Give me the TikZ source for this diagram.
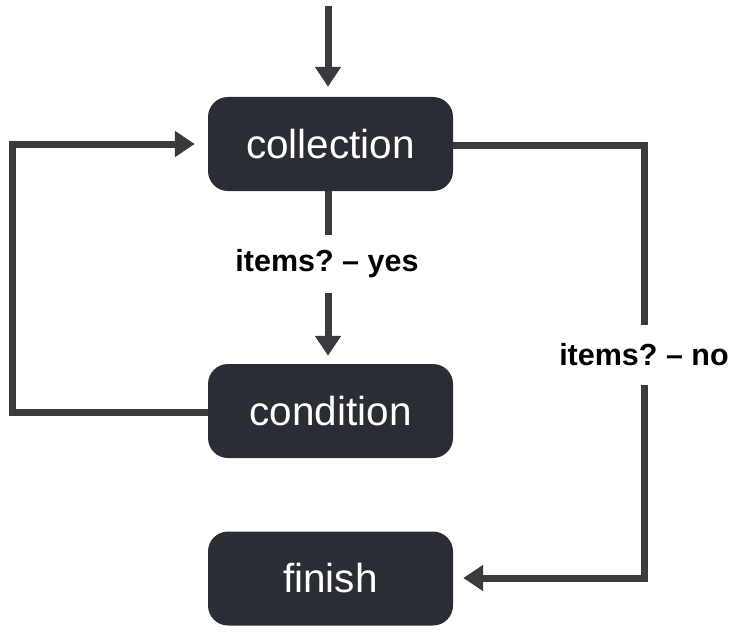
\documentclass[tikz,border=0pt]{standalone}
\usepackage{fontspec}
\setmainfont{Liberation Sans}
\usetikzlibrary{arrows.meta}
\frenchspacing
\definecolor{boxfill}{HTML}{2B2D35}
\definecolor{linec}{HTML}{3A3B3E}
\tikzset{
  flowbox/.style={draw=none, fill=boxfill, rounded corners=20pt, minimum width=245pt, minimum height=94pt, text=white, font=\fontsize{40.5}{48}\selectfont, inner sep=0pt},
  conn/.style={draw=linec, line width=7pt},
  arr/.style={conn, -{Triangle[width=25pt,length=20pt]}},
  lbl/.style={font=\bfseries\fontsize{30.5}{36}\selectfont, text=black, inner sep=0pt}
}
\begin{document}
\begin{tikzpicture}[x=1pt,y=-1pt]
\useasboundingbox (0,0) rectangle (734,634);
\node[flowbox] (collection) at (330.5,144) {collection};
\node[flowbox] (condition) at (330.5,411) {condition};
\node[flowbox] (finish) at (330.5,578.5) {finish};
\coordinate (start) at (328,6);
\node[lbl, minimum height=58pt] (yes) at (327,264) {items? -- yes};
\node[lbl, minimum height=60pt] (no) at (644,355) {items? -- no};
\coordinate (tr) at (644,145);
\coordinate (br) at (644,578);
\coordinate (tl) at (12,144);
\coordinate (bl) at (12,412);
\draw[arr, shorten >=10pt] (start) -- (collection.north -| start);
\draw[conn] (collection.south -| start) -- (yes.north -| start);
\draw[arr, shorten >=8pt] (yes.south -| start) -- (condition.north -| start);
\draw[arr, shorten >=13pt, line join=miter] (condition.west |- bl) -- (bl) -- (tl) -- (collection.west |- tl);
\draw[conn, line join=miter] (collection.east |- tr) -- (tr) -- (no.north);
\draw[arr, shorten >=10pt, line join=miter] (no.south) -- (br) -- (finish.east |- br);
\end{tikzpicture}
\end{document}
